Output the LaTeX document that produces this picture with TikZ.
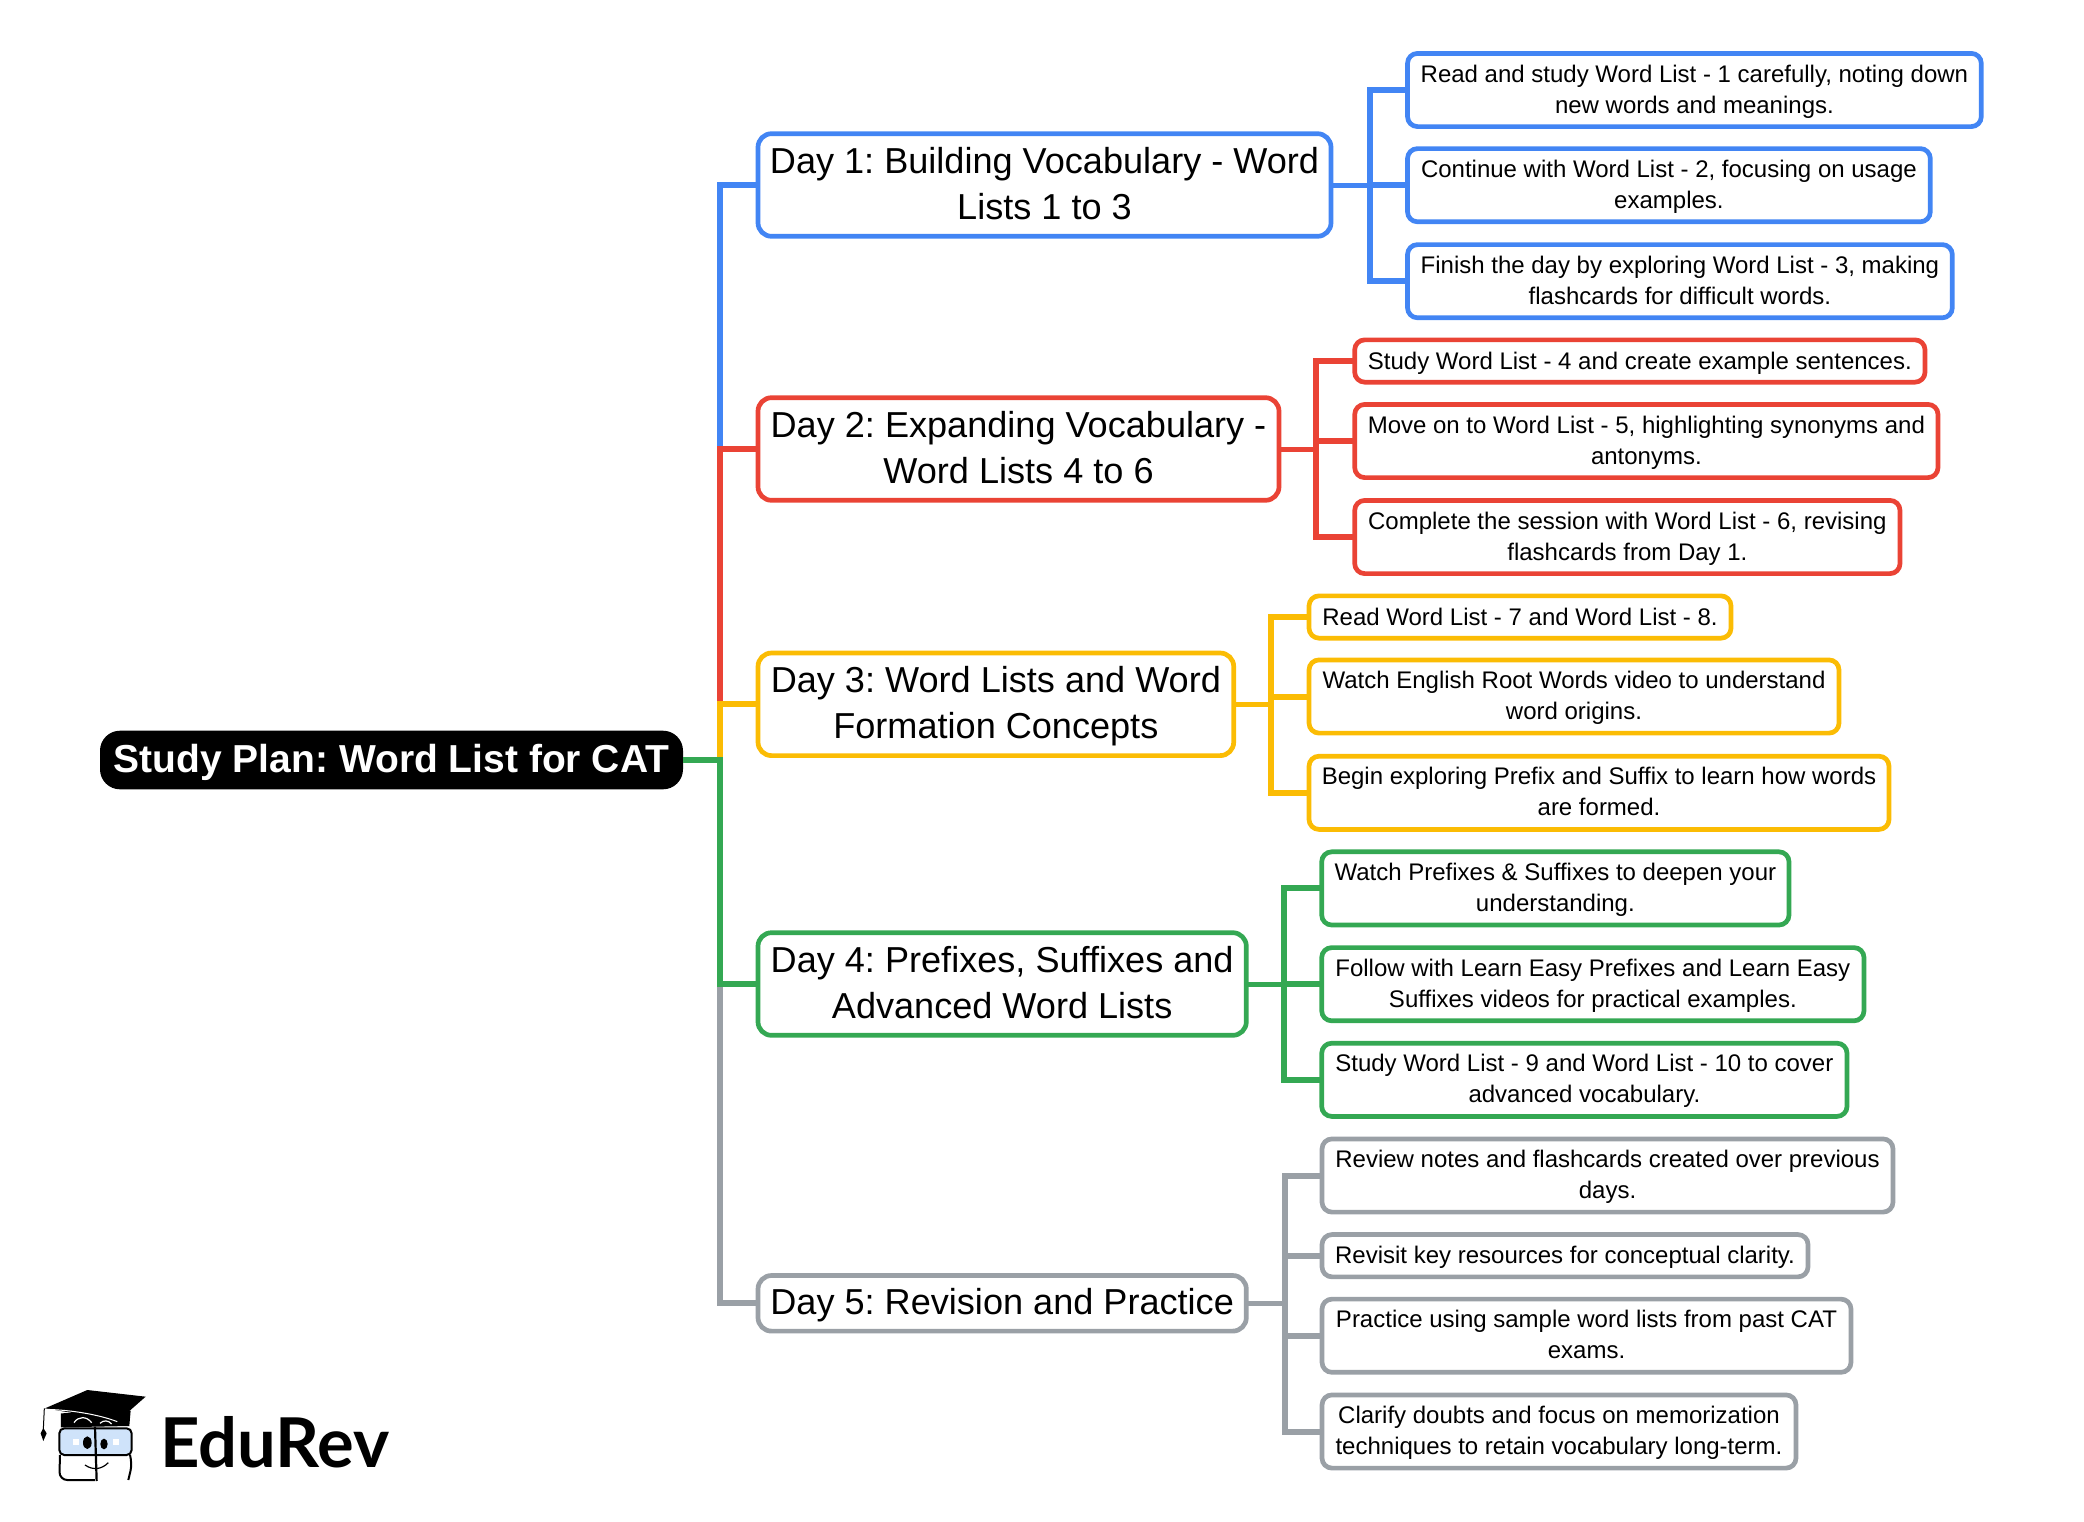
\documentclass[tikz,border=0pt]{standalone}
\usepackage{fontspec}
\setmainfont{Liberation Sans}
\newfontfamily\logofont{Lato}
\definecolor{mapblue}{HTML}{4285F4}
\definecolor{mapred}{HTML}{EA4335}
\definecolor{mapyellow}{HTML}{FBBC04}
\definecolor{mapgreen}{HTML}{34A853}
\definecolor{mapgrey}{HTML}{9AA0A6}
\definecolor{lensblue}{HTML}{CFE3FA}
\tikzset{
  rootbox/.style={fill=black,text=white,rounded corners=20pt,inner sep=0pt,outer sep=0pt,
    text height=25.4pt,text depth=0pt,
    minimum width=583pt,minimum height=58.6pt,font=\bfseries\fontsize{39}{46}\selectfont},
  daybox/.style={draw=#1,fill=white,line width=4.7pt,rounded corners=13.5pt,inner sep=0pt,outer sep=0pt,
    align=center,text height=68pt,text depth=0pt,
    minimum height=102.6pt,font=\fontsize{36.1}{46}\selectfont},
  kidbox/.style={draw=#1,fill=white,line width=4.7pt,rounded corners=10pt,inner sep=0pt,outer sep=0pt,
    align=center,text height=46pt,text depth=0pt,
    minimum height=73.2pt,font=\fontsize{24}{31}\selectfont},
  dayone/.style={minimum height=55.6pt,text height=23pt},
  kidone/.style={minimum height=42.3pt,text height=16pt},
  link/.style={draw=#1,line width=6pt},
  daylink/.style={draw=#1,line width=5pt}
}
\begin{document}
\frenchspacing
\begin{tikzpicture}[x=1pt,y=-1pt]
  \useasboundingbox (0,0) rectangle (2084,1521);

  \node[rootbox] (root) at (391.5,760) {Study Plan: Word List for CAT};

  \node[daybox=mapblue,minimum width=573pt] (d1) at (1044.5,185) {Day 1: Building Vocabulary - Word\\Lists 1 to 3};
  \node[daybox=mapred,minimum width=521pt] (d2) at (1018.5,449) {Day 2: Expanding Vocabulary -\\Word Lists 4 to 6};
  \node[daybox=mapyellow,minimum width=475.7pt] (d3) at (995.85,704.3) {Day 3: Word Lists and Word\\Formation Concepts};
  \node[daybox=mapgreen,minimum width=488.3pt] (d4) at (1002.15,984) {Day 4: Prefixes, Suffixes and\\Advanced Word Lists};
  \node[daybox=mapgrey,dayone,minimum width=488.3pt] (d5) at (1002.15,1303.3) {Day 5: Revision and Practice};

  \node[kidbox=mapblue,minimum width=573.8pt] (d1a) at (1694.4,90) {Read and study Word List - 1 carefully, noting down\\new words and meanings.};
  \node[kidbox=mapblue,minimum width=522.8pt] (d1b) at (1668.9,185.2) {Continue with Word List - 2, focusing on usage\\examples.};
  \node[kidbox=mapblue,minimum width=544.8pt] (d1c) at (1679.9,281.2) {Finish the day by exploring Word List - 3, making\\flashcards for difficult words.};

  \node[kidbox=mapred,kidone,minimum width=570.3pt] (d2a) at (1639.85,361) {Study Word List - 4 and create example sentences.};
  \node[kidbox=mapred,minimum width=583.3pt] (d2b) at (1646.35,441) {Move on to Word List - 5, highlighting synonyms and\\antonyms.};
  \node[kidbox=mapred,minimum width=545.3pt] (d2c) at (1627.35,537) {Complete the session with Word List - 6, revising\\flashcards from Day 1.};

  \node[kidbox=mapyellow,kidone,minimum width=422pt] (d3a) at (1520,617) {Read Word List - 7 and Word List - 8.};
  \node[kidbox=mapyellow,minimum width=530pt] (d3b) at (1574,696.5) {Watch English Root Words video to understand\\word origins.};
  \node[kidbox=mapyellow,minimum width=580pt] (d3c) at (1599,792.8) {Begin exploring Prefix and Suffix to learn how words\\are formed.};

  \node[kidbox=mapgreen,minimum width=467.3pt] (d4a) at (1555.35,888.4) {Watch Prefixes \& Suffixes to deepen your\\understanding.};
  \node[kidbox=mapgreen,minimum width=542.3pt] (d4b) at (1592.85,984.2) {Follow with Learn Easy Prefixes and Learn Easy\\Suffixes videos for practical examples.};
  \node[kidbox=mapgreen,minimum width=525.3pt] (d4c) at (1584.35,1079.8) {Study Word List - 9 and Word List - 10 to cover\\advanced vocabulary.};

  \node[kidbox=mapgrey,minimum width=571pt] (d5a) at (1607.5,1175.5) {Review notes and flashcards created over previous\\days.};
  \node[kidbox=mapgrey,kidone,minimum width=486pt] (d5b) at (1565,1255.7) {Revisit key resources for conceptual clarity.};
  \node[kidbox=mapgrey,minimum width=529pt] (d5c) at (1586.5,1335.7) {Practice using sample word lists from past CAT\\exams.};
  \node[kidbox=mapgrey,minimum width=474pt] (d5d) at (1559,1431.5) {Clarify doubts and focus on memorization\\techniques to retain vocabulary long-term.};

  % trunk from the root
  \coordinate (trunk) at (720,760);
  \draw[link=mapblue] (root.east) -- (trunk) |- (d1.west);
  \draw[link=mapred] (root.east) -- (trunk) |- (d2.west);
  \draw[link=mapyellow] (root.east) -- (trunk) |- (d3.west);
  \draw[link=mapgrey] (root.east) -- (trunk) |- (d5.west);
  \draw[link=mapgreen] (root.east) -- (trunk) |- (d4.west);

  % one bus per day
  \coordinate (bus1) at (1370,185);
  \coordinate (bus2) at (1316.3,449);
  \coordinate (bus3) at (1271,704.3);
  \coordinate (bus4) at (1283.7,984);
  \coordinate (bus5) at (1284.7,1303.3);

  \draw[daylink=mapblue] (d1.east) -- (bus1);
  \foreach \kid in {d1a,d1b,d1c}
  {\draw[link=mapblue] (bus1) |- (\kid.west);}
  \draw[daylink=mapred] (d2.east) -- (bus2);
  \foreach \kid in {d2a,d2b,d2c}
  {\draw[link=mapred] (bus2) |- (\kid.west);}
  \draw[daylink=mapyellow] (d3.east) -- (bus3);
  \foreach \kid in {d3a,d3b,d3c}
  {\draw[link=mapyellow] (bus3) |- (\kid.west);}
  \draw[daylink=mapgreen] (d4.east) -- (bus4);
  \foreach \kid in {d4a,d4b,d4c}
  {\draw[link=mapgreen] (bus4) |- (\kid.west);}
  \draw[daylink=mapgrey] (d5.east) -- (bus5);
  \foreach \kid in {d5a,d5b,d5c,d5d}
  {\draw[link=mapgrey] (bus5) |- (\kid.west);}

  % logo
  \node[anchor=base west,inner sep=0pt,font=\logofont\bfseries\fontsize{68.7}{68.7}\selectfont] (logotext) at (160,1467) {EduRev};
  \begin{scope}[shift={(0,1350)},x=0.3333pt,y=-0.3333pt]
    \fill (183,190) -- (392,182) -- (388,228) -- (183,232) -- cycle;
    \fill (135,175) -- (262,120) -- (437,140) -- (355,212) -- cycle;
    \draw[white,line width=1pt] (137,178) .. controls (220,180) and (300,195) .. (352,215);
    \draw[white,line width=1.2pt] (222,218) .. controls (235,198) and (260,198) .. (275,218);
    \draw[white,line width=1.2pt] (300,220) .. controls (310,210) and (325,210) .. (335,222);
    \draw[line width=1pt] (133,175) -- (130,238);
    \fill (130,234) -- (122,250) -- (130,273) -- (140,250) -- cycle;
    \draw[line width=2pt,fill=lensblue,rounded corners=5pt] (178,235) rectangle (395,315);
    \draw[line width=2pt,rounded corners=8pt] (180,315) -- (178,390) -- (285,390);
    \draw[line width=2pt,rounded corners=8pt] (390,315) -- (397,340) -- (385,390);
    \draw[line width=2.2pt] (285,230) -- (290,393);
    \fill (262,278) ellipse [x radius=13,y radius=19];
    \fill (312,282) ellipse [x radius=11,y radius=16];
    \fill[white] (220,268) rectangle (236,284);
    \fill[white] (340,268) rectangle (356,284);
    \draw[line width=1.2pt] (255,345) .. controls (280,362) and (305,358) .. (325,338);
  \end{scope}
\end{tikzpicture}
\end{document}
